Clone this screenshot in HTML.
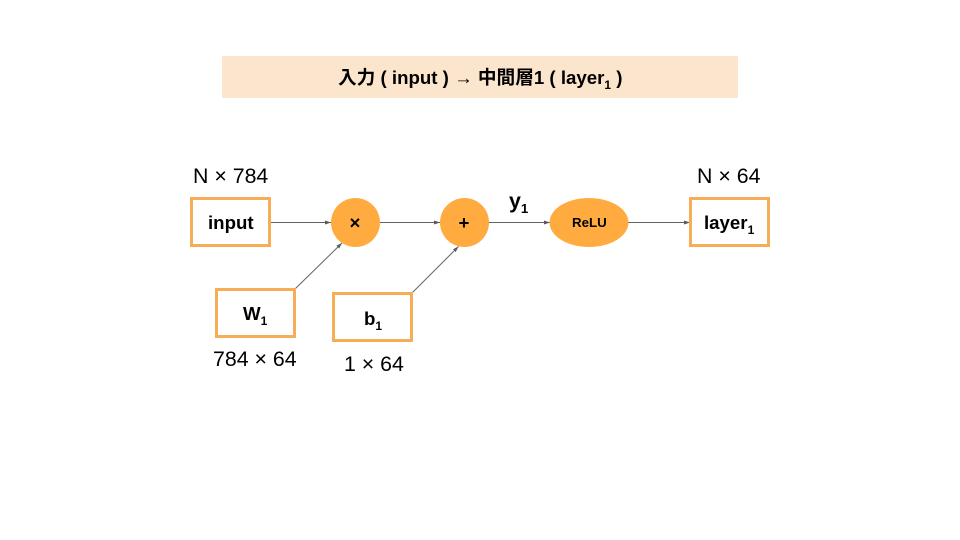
<!DOCTYPE html>
<html><head><meta charset="utf-8"><style>
html,body{margin:0;padding:0;background:#fff}
svg{display:block}
text{font-family:"Liberation Sans","Noto Sans CJK JP",sans-serif;fill:#000}
.b{font-weight:bold}
</style></head><body>
<svg width="960" height="540" viewBox="0 0 960 540" xmlns="http://www.w3.org/2000/svg">
<defs><marker id="a" markerWidth="7" markerHeight="6" refX="6" refY="3" orient="auto" markerUnits="userSpaceOnUse"><path d="M0 1L6 3L0 5z" fill="#595959"/></marker></defs>
<rect x="222" y="56" width="516" height="42" fill="#fce5cd"/>
<text class="b" x="338" y="84" font-size="18.67">入力 ( input ) <tspan font-weight="normal">→</tspan> 中間層1 ( layer<tspan font-size="12" dy="5">1</tspan><tspan dy="-5"> )</tspan></text>
<g fill="none" stroke="#5f6368" stroke-width="1">
<line x1="270" y1="222.5" x2="331" y2="222.5" marker-end="url(#a)"/>
<line x1="380" y1="222.5" x2="440" y2="222.5" marker-end="url(#a)"/>
<line x1="489" y1="222.5" x2="550" y2="222.5" marker-end="url(#a)"/>
<line x1="628" y1="222.5" x2="690" y2="222.5" marker-end="url(#a)"/>
<line x1="295" y1="289" x2="342" y2="243" marker-end="url(#a)"/>
<line x1="412" y1="293" x2="458.500" y2="246.500" marker-end="url(#a)"/>
</g>
<g fill="#fff" stroke="#f6ad55" stroke-width="3">
<rect x="191.500" y="198.500" width="78" height="47"/>
<rect x="216.500" y="289.500" width="78" height="47"/>
<rect x="333.500" y="293.500" width="78" height="47"/>
<rect x="690.500" y="198.500" width="78" height="47"/>
</g>
<g fill="#ffab40">
<circle cx="355.500" cy="222.500" r="24.500"/>
<circle cx="464.500" cy="222.500" r="24.500"/>
<ellipse cx="589" cy="222.500" rx="39.500" ry="24.500"/>
</g>
<text x="193" y="183" font-size="21.33">N × 784</text>
<text x="697" y="183" font-size="21.33">N × 64</text>
<text x="213" y="366" font-size="21.33">784 × 64</text>
<text x="344" y="371" font-size="21.33">1 × 64</text>
<text class="b" x="208" y="229" font-size="18.67">input</text>
<text class="b" x="243" y="320" font-size="18.67">W<tspan font-size="12" dy="5">1</tspan></text>
<text class="b" x="364" y="325" font-size="18.67">b<tspan font-size="12" dy="5">1</tspan></text>
<text class="b" x="704" y="229" font-size="18.67">layer<tspan font-size="12" dy="5">1</tspan></text>
<text class="b" x="509" y="208" font-size="21.33">y<tspan font-size="13.33" dy="5">1</tspan></text>
<text class="b" x="355" y="229" font-size="18.67" text-anchor="middle">×</text>
<text class="b" x="464" y="229" font-size="18.67" text-anchor="middle">+</text>
<text class="b" x="572" y="227" font-size="13.33">ReLU</text>
</svg>
</body></html>
